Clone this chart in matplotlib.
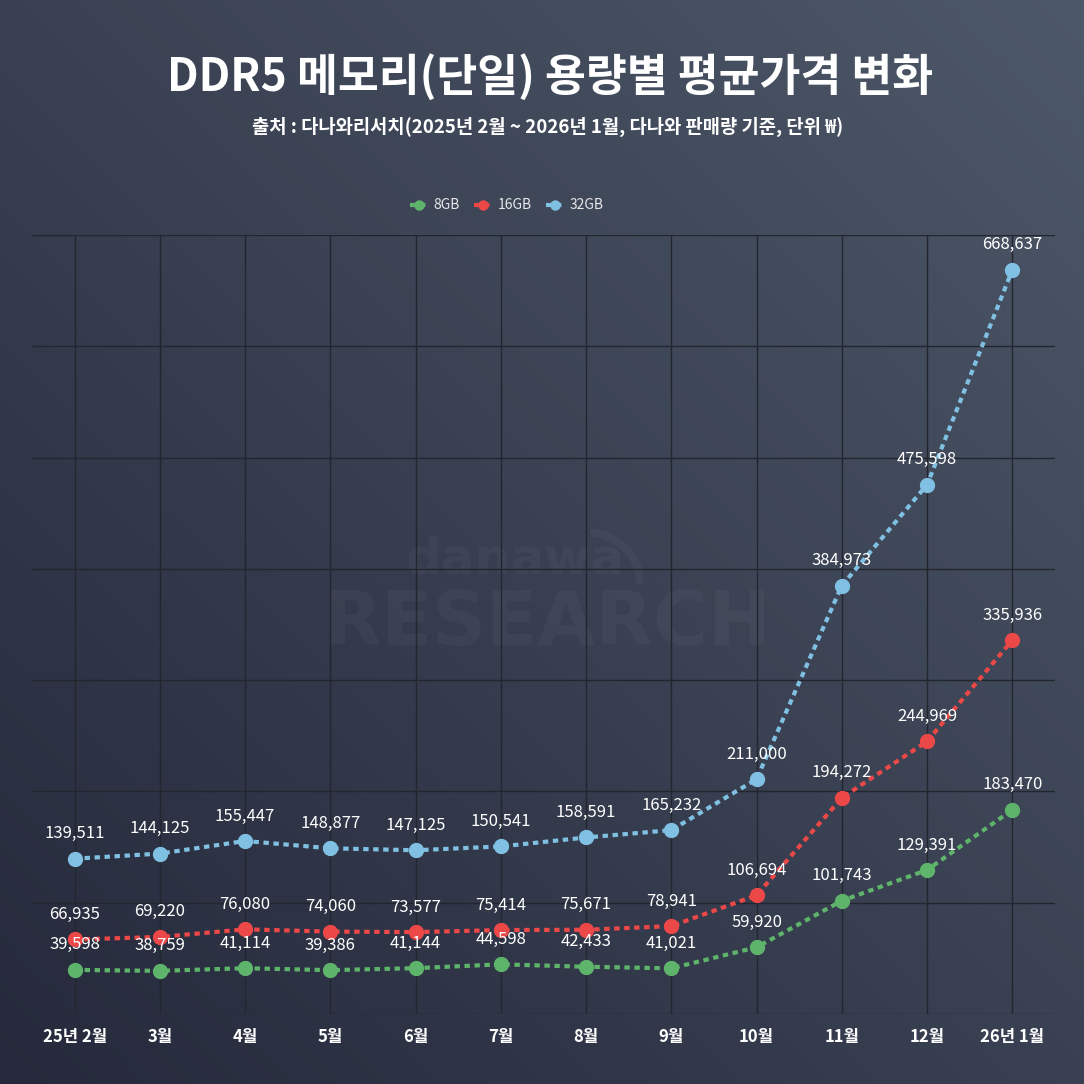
import matplotlib.pyplot as plt
import numpy as np

plt.rcParams['font.family'] = ['Noto Sans CJK KR', 'DejaVu Sans']

months = ['25년 2월', '3월', '4월', '5월', '6월', '7월', '8월', '9월', '10월', '11월', '12월', '26년 1월']
gb8 = [39598, 38759, 41114, 39386, 41144, 44598, 42433, 41021, 59920, 101743, 129391, 183470]
gb16 = [66935, 69220, 76080, 74060, 73577, 75414, 75671, 78941, 106694, 194272, 244969, 335936]
gb32 = [139511, 144125, 155447, 148877, 147125, 150541, 158591, 165232, 211000, 384973, 475598, 668637]

series = [('8GB', gb8, '#5fb46c'), ('16GB', gb16, '#ec4848'), ('32GB', gb32, '#80c0e2')]

fig = plt.figure(figsize=(10.84, 10.84), dpi=100)

# gradient background, dark bottom-left to lighter top-right
bg = fig.add_axes([0, 0, 1, 1], zorder=0)
n = 300
xx, yy = np.meshgrid(np.linspace(0, 1, n), np.linspace(0, 1, n))
t = (xx + yy) / 2
c0 = np.array([0x25, 0x29, 0x3b]) / 255
c1 = np.array([0x4d, 0x58, 0x68]) / 255
img = c0[None, None, :] * (1 - t[..., None]) + c1[None, None, :] * t[..., None]
bg.imshow(img, origin='lower', extent=[0, 1, 0, 1], aspect='auto')
bg.set_xlim(0, 1)
bg.set_ylim(0, 1)
bg.set_axis_off()

# watermark
bg.text(0.475, 0.484, 'danawa', color='white', alpha=0.035, fontsize=36,
        fontweight='bold', ha='center', va='center', family='DejaVu Sans')
bg.text(0.505, 0.424, 'RESEARCH', color='white', alpha=0.035, fontsize=54,
        fontweight='bold', ha='center', va='center', family='DejaVu Sans')
arc = np.linspace(0.15, 1.0, 50)
bg.plot(0.535 + 0.055 * np.sin(arc * np.pi / 2) , 0.465 + 0.045 * np.cos(arc * np.pi / 2),
        color='white', alpha=0.035, linewidth=6, solid_capstyle='round')

ax = fig.add_axes([0.0295, 0.0646, 0.9437, 0.7186], zorder=1)
ax.set_facecolor('none')
ax.set_xlim(-0.5, 11.5)
ax.set_ylim(0, 700000)
ax.set_yticks(np.arange(0, 700001, 100000))
ax.set_yticklabels([])
ax.set_xticks(range(len(months)))
ax.set_xticklabels(months, color='white', fontsize=12, fontweight='bold')
ax.tick_params(length=0, pad=10)
for s in ax.spines.values():
    s.set_visible(False)
ax.grid(True, color='#23262f', linewidth=1.0)
ax.set_axisbelow(True)

x = np.arange(len(months))
for name, vals, col in series:
    ax.plot(x, vals, linestyle=(0, (1.3, 1.1)), linewidth=3, color=col,
            marker='o', markersize=10, label=name, zorder=3)
    for xi, v in zip(x, vals):
        ax.annotate(f'{v:,}', (xi, v), xytext=(0, 18), textcoords='offset points',
                    ha='center', va='center', color='white', fontsize=12, zorder=4)

leg = ax.legend(loc='center', bbox_to_anchor=(0.464, 1.038), ncol=3, frameon=False,
                fontsize=10, handlelength=1.3, handletextpad=0.4, columnspacing=1.0,
                markerscale=0.65)
for txt in leg.get_texts():
    txt.set_color('#e8e8e8')

fig.text(0.507, 0.929, 'DDR5 메모리(단일) 용량별 평균가격 변화', ha='center', va='center',
         color='white', fontsize=32, fontweight='bold')
fig.text(0.505, 0.883, '출처 : 다나와리서치(2025년 2월 ~ 2026년 1월, 다나와 판매량 기준, 단위 ₩)',
         ha='center', va='center', color='white', fontsize=13.5, fontweight='bold')

plt.savefig('out.png', dpi=100)
